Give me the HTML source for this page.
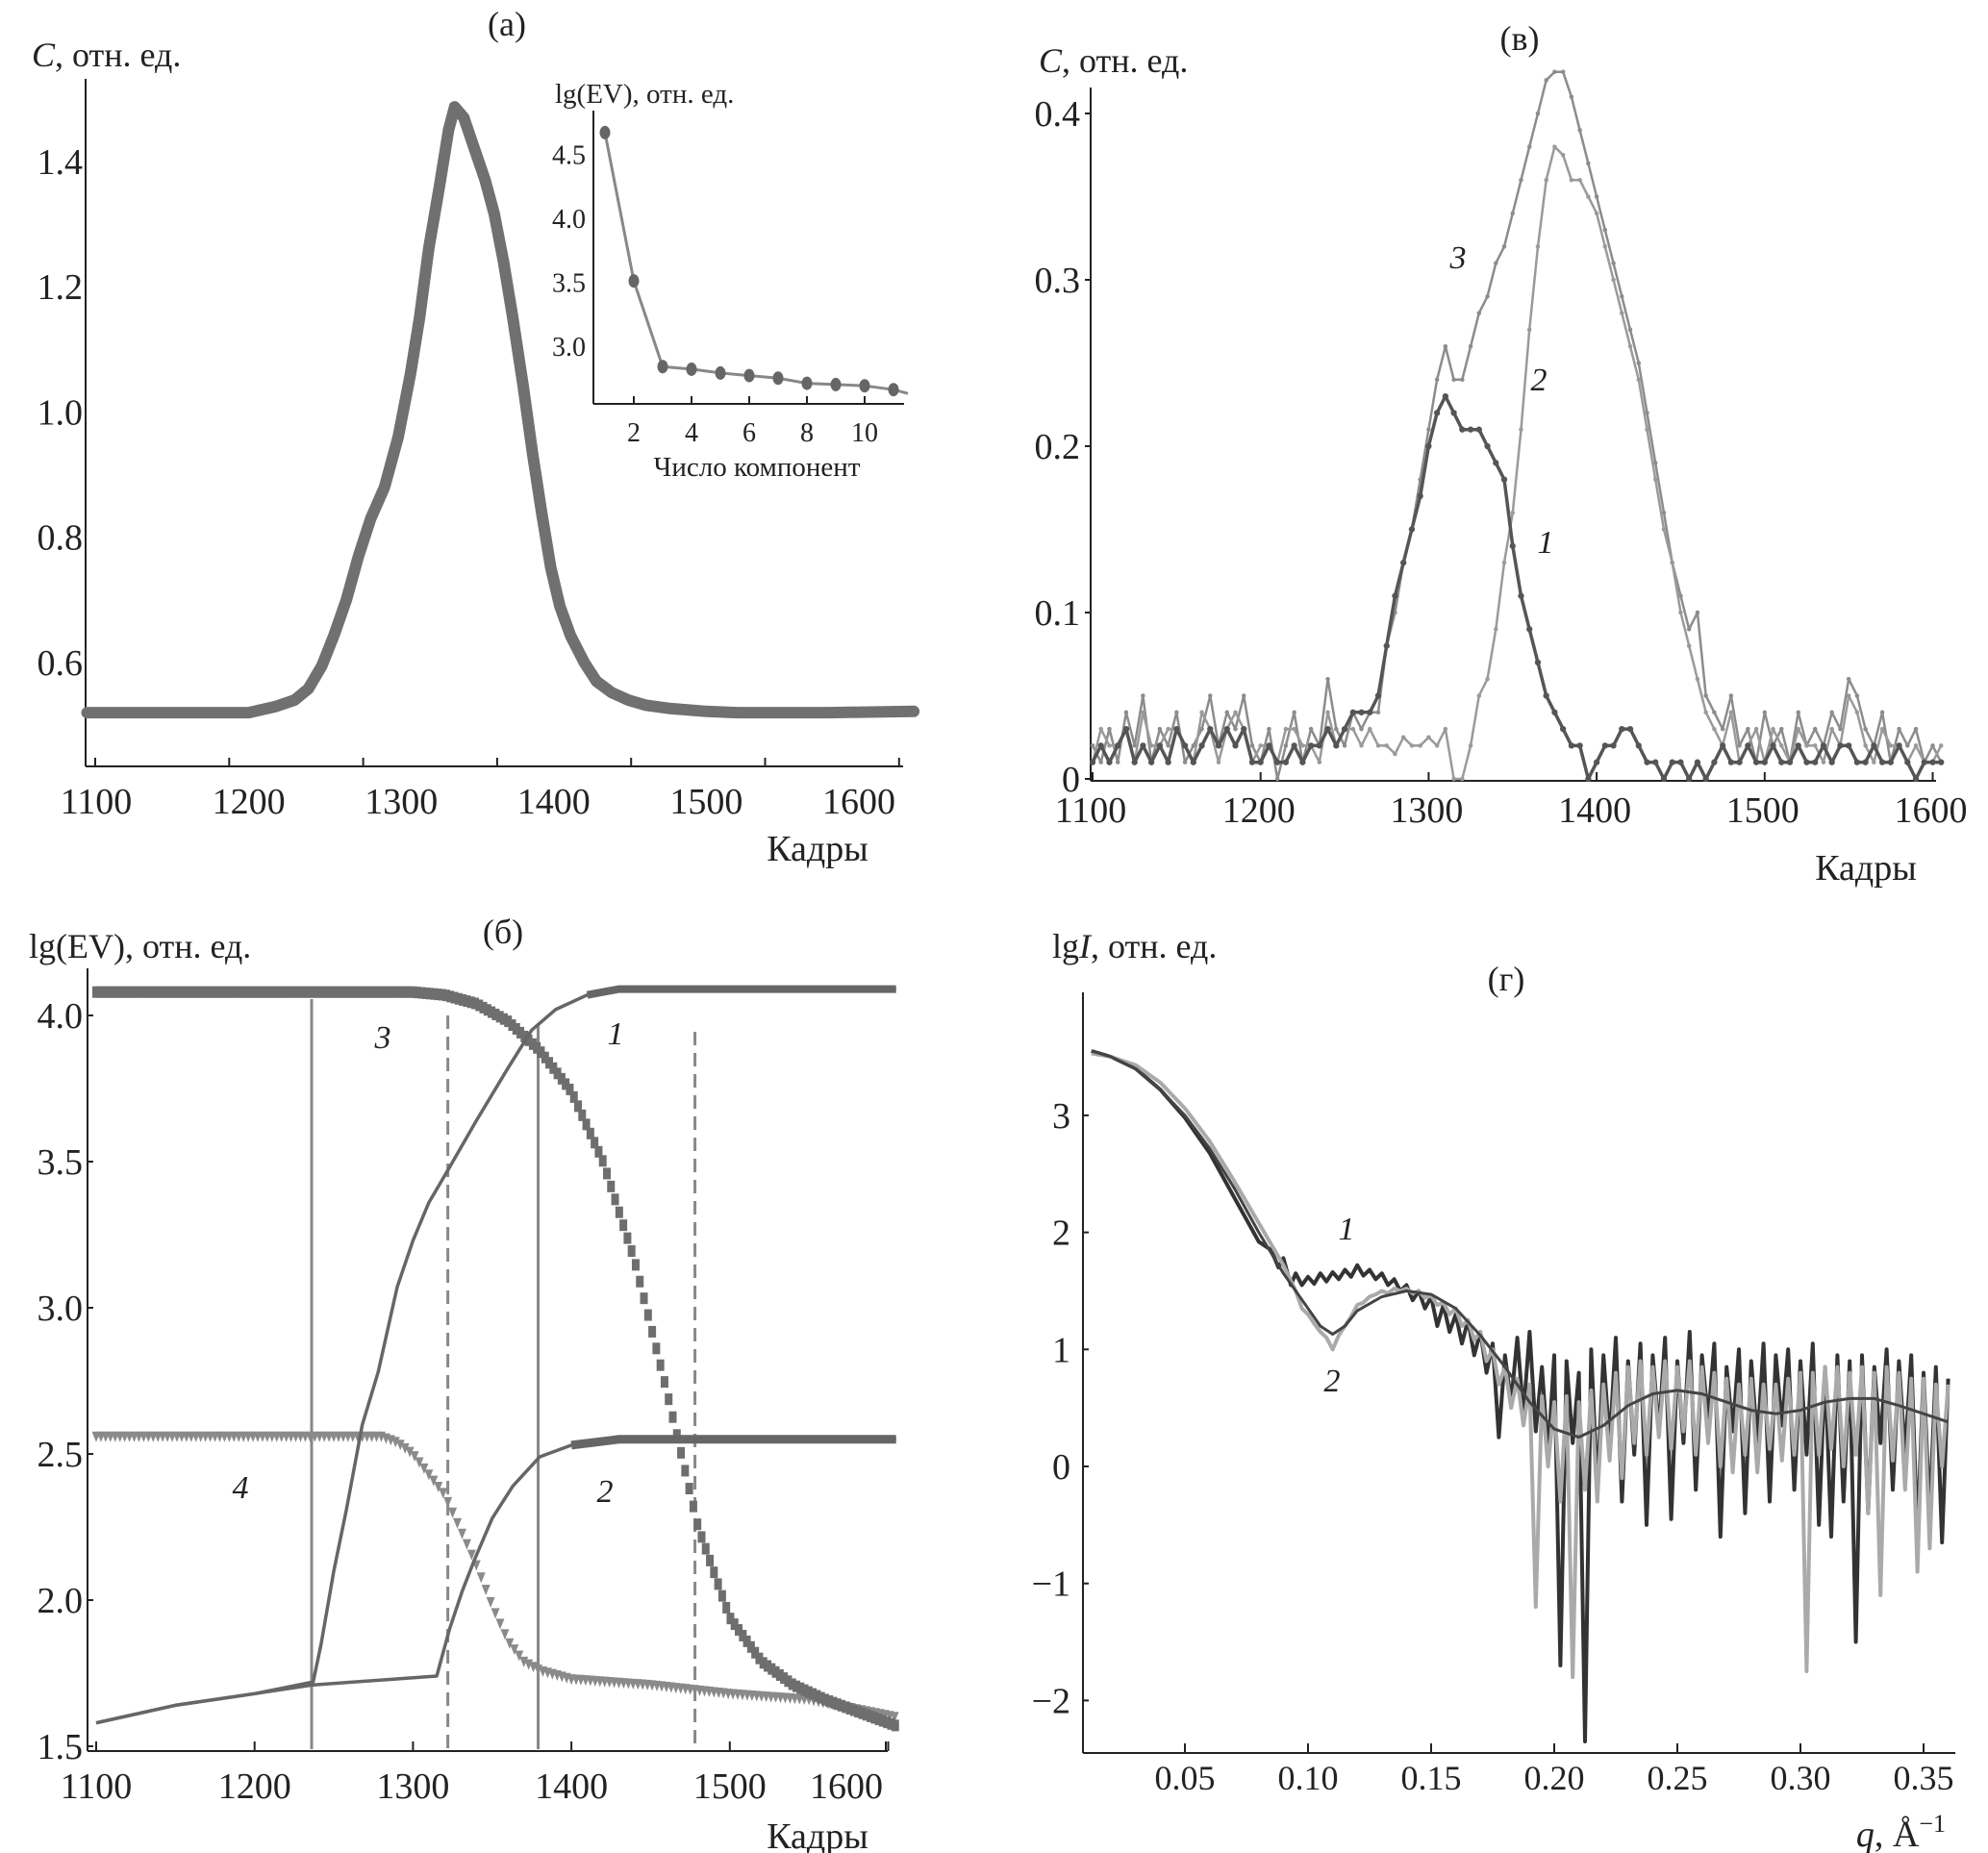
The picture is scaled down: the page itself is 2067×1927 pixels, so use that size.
<!DOCTYPE html>
<html><head><meta charset="utf-8"><style>
html,body{margin:0;padding:0;background:#fff;}
svg{display:block;font-family:"Liberation Serif",serif;}
</style></head><body>
<svg id="fig" width="2067" height="1927" viewBox="0 0 2067 1927" xmlns="http://www.w3.org/2000/svg">
<g id="pa"></g>
<g id="pv"></g>
<g id="pb"></g>
<g id="pg"></g>
</svg>
<script>
// ---------- data: panel (a) ----------
const aFrames=[1094,1150,1200,1218,1230,1239,1248,1256,1264,1272,1280,1289,1298,1306,1312,1318,1325,1331,1335,1341,1348,1355,1361,1367,1373,1380,1386,1392,1398,1404,1411,1420,1428,1438,1449,1460,1475,1500,1520,1580,1636];
const aValues=[0.52,0.52,0.52,0.53,0.54,0.558,0.595,0.644,0.70,0.77,0.83,0.88,0.96,1.06,1.15,1.26,1.36,1.45,1.487,1.47,1.42,1.37,1.316,1.24,1.152,1.04,0.935,0.84,0.752,0.69,0.643,0.60,0.57,0.552,0.54,0.532,0.527,0.522,0.52,0.52,0.522];
const aXLabels=[1100,1200,1300,1400,1500,1600];
const aYLabels=[0.6,0.8,1.0,1.2,1.4];
const insetN=[1,2,3,4,5,6,7,8,9,10,11];
const insetEV=[4.67,3.51,2.84,2.82,2.79,2.77,2.75,2.71,2.70,2.69,2.66];
const insetXLabels=[2,4,6,8,10];
const insetYLabels=[3.0,3.5,4.0,4.5];
// ---------- data: panel (в) ----------
const vStart=1100, vStep=5;
const vS3=[0.02,0.01,0.03,0.01,0.04,0.02,0.05,0.01,0.03,0.02,0.04,0.01,0.02,0.03,0.05,0.02,0.04,0.03,0.05,0.02,0.01,0.03,0.00,0.02,0.04,0.01,0.03,0.02,0.06,0.03,0.02,0.04,0.03,0.04,
0.04,0.08,0.10,0.13,0.15,0.18,0.21,0.24,0.26,0.24,0.24,0.26,0.28,0.29,0.31,0.32,0.34,0.36,0.38,0.40,0.42,0.425,0.425,0.41,0.39,0.37,0.35,0.33,0.31,0.29,0.27,0.25,0.22,0.19,0.16,0.13,0.11,0.09,0.10,0.05,0.04,0.03,0.05,0.02,0.03,0.01,0.04,0.02,0.03,0.01,0.04,0.02,0.03,0.02,0.04,0.03,0.06,0.05,0.03,0.02,0.04,0.01,0.03,0.02,0.03,0.01,0.02,0.01];
const vS2=[0.01,0.03,0.02,0.02,0.03,0.01,0.04,0.02,0.02,0.03,0.03,0.02,0.01,0.04,0.03,0.01,0.03,0.04,0.03,0.01,0.02,0.02,0.01,0.03,0.03,0.02,0.02,0.01,0.04,0.02,0.03,0.03,0.02,0.03,
0.02,0.02,0.015,0.025,0.02,0.02,0.025,0.02,0.03,0.0,0.0,0.02,0.05,0.06,0.09,0.13,0.16,0.21,0.27,0.32,0.36,0.38,0.375,0.36,0.36,0.35,0.34,0.32,0.30,0.28,0.26,0.24,0.21,0.18,0.15,0.13,0.10,0.08,0.06,0.04,0.03,0.02,0.04,0.01,0.02,0.03,0.01,0.03,0.02,0.01,0.03,0.02,0.02,0.01,0.03,0.02,0.05,0.04,0.02,0.01,0.03,0.02,0.02,0.01,0.02,0.01,0.01,0.02];
const vS1=[0.01,0.02,0.01,0.02,0.03,0.01,0.02,0.01,0.02,0.01,0.03,0.02,0.01,0.02,0.03,0.02,0.03,0.02,0.03,0.01,0.01,0.02,0.01,0.01,0.02,0.01,0.02,0.02,0.03,0.02,0.03,0.04,0.04,0.04,
0.05,0.08,0.11,0.13,0.15,0.17,0.20,0.22,0.23,0.22,0.21,0.21,0.21,0.20,0.19,0.18,0.14,0.11,0.09,0.07,0.05,0.04,0.03,0.02,0.02,0.0,0.01,0.02,0.02,0.03,0.03,0.02,0.01,0.01,0.0,0.01,0.01,0.0,0.01,0.0,0.01,0.02,0.01,0.01,0.02,0.01,0.01,0.02,0.01,0.01,0.02,0.01,0.01,0.02,0.01,0.02,0.02,0.01,0.01,0.02,0.01,0.01,0.02,0.01,0.0,0.01,0.01,0.01];
const vXLabels=[1100,1200,1300,1400,1500,1600];
const vYLabels=[0,0.1,0.2,0.3,0.4];
// ---------- data: panel (б) ----------
const b3F=[1100,1300,1320,1340,1360,1380,1400,1420,1440,1460,1480,1500,1520,1540,1560,1580,1605];
const b3V=[4.08,4.08,4.07,4.04,3.98,3.88,3.74,3.50,3.16,2.72,2.25,1.94,1.79,1.71,1.66,1.62,1.57];
const b1F=[1100,1150,1200,1237,1242,1250,1258,1268,1278,1290,1300,1310,1323,1340,1360,1375,1390,1410,1430,1605];
const b1V=[1.58,1.64,1.68,1.72,1.85,2.10,2.31,2.60,2.78,3.07,3.23,3.36,3.48,3.64,3.82,3.95,4.02,4.07,4.09,4.09];
const b2F=[1100,1150,1200,1237,1315,1323,1331,1339,1350,1363,1380,1400,1430,1605];
const b2V=[1.58,1.64,1.68,1.71,1.74,1.90,2.03,2.14,2.28,2.39,2.49,2.53,2.55,2.55];
const b4F=[1100,1280,1290,1300,1320,1340,1350,1360,1370,1380,1400,1450,1500,1550,1605];
const b4V=[2.56,2.56,2.54,2.50,2.36,2.12,1.98,1.86,1.79,1.76,1.73,1.71,1.68,1.66,1.60];
const bSolid=[1236,1379];
const bDashed=[1322,1478];
const bXLabels=[1100,1200,1300,1400,1500,1600];
const bYLabels=[1.5,2.0,2.5,3.0,3.5,4.0];
// ---------- data: panel (г) ----------
const gFitQ=[0.012,0.02,0.03,0.04,0.05,0.06,0.07,0.08,0.09,0.10,0.105,0.11,0.115,0.12,0.13,0.14,0.15,0.16,0.17,0.18,0.19,0.20,0.21,0.22,0.23,0.24,0.25,0.26,0.27,0.28,0.29,0.30,0.31,0.32,0.33,0.34,0.35,0.36];
const gFitV=[3.55,3.50,3.40,3.22,3.0,2.72,2.38,2.0,1.65,1.35,1.2,1.13,1.2,1.33,1.45,1.50,1.47,1.35,1.12,0.85,0.55,0.32,0.25,0.35,0.52,0.62,0.65,0.62,0.55,0.48,0.45,0.48,0.55,0.58,0.58,0.52,0.45,0.38];
const g1HeadQ=[0.012,0.02,0.03,0.04,0.05,0.06,0.07,0.08,0.085,0.088,0.09,0.093,0.095];
const g1HeadV=[3.55,3.50,3.40,3.22,2.98,2.68,2.30,1.92,1.85,1.70,1.78,1.55,1.65];
const g2HeadQ=[0.012,0.02,0.03,0.04,0.05,0.06,0.07,0.08,0.09,0.095];
const g2HeadV=[3.53,3.50,3.43,3.28,3.06,2.78,2.44,2.08,1.72,1.50];
const gTailStart=0.0975, gTailStep=0.0025;
const g1Tail=[1.55,1.62,1.56,1.65,1.58,1.66,1.60,1.68,1.62,1.72,1.63,1.68,1.60,1.65,1.55,1.60,1.50,1.55,1.42,1.50,1.35,1.45,1.20,1.38,1.15,1.30,1.05,1.25,0.95,1.15,
0.80,1.05,0.25,0.95,0.55,1.10,0.45,1.15,0.30,0.85,0.10,0.95,-1.70,0.90,0.20,0.80,-2.35,1.00,-0.20,0.95,0.20,1.10,-0.30,0.90,0.10,1.05,-0.50,0.95,0.30,1.10,-0.45,0.90,0.20,1.15,-0.20,0.95,0.40,1.05,-0.60,0.85,0.30,1.00,-0.40,0.90,0.20,1.05,-0.30,0.95,0.35,1.00,-0.20,0.90,0.10,1.05,-0.50,0.85,-0.60,0.95,-0.30,0.90,-1.50,0.95,-0.40,0.85,0.20,1.00,-0.20,0.90,0.10,0.95,-0.60,0.80,-0.40,0.85,-0.65,0.75];
const g2Tail=[1.35,1.30,1.22,1.15,1.10,1.00,1.12,1.20,1.28,1.38,1.40,1.45,1.47,1.50,1.48,1.52,1.50,1.52,1.48,1.50,1.44,1.46,1.38,1.40,1.30,1.35,1.20,1.25,1.08,1.15,0.90,1.00,0.70,0.85,0.50,0.75,0.35,0.70,-1.20,0.60,0.00,0.55,-0.30,0.60,-1.80,0.55,-0.20,0.65,-0.30,0.70,0.05,0.80,-0.10,0.85,0.20,0.90,0.10,0.85,0.25,0.90,0.15,0.85,0.30,0.90,0.10,0.85,0.20,0.80,0.00,0.75,-0.05,0.70,0.10,0.75,-0.05,0.70,0.15,0.70,0.05,0.75,0.10,0.80,-1.75,0.80,0.10,0.85,0.15,0.85,0.00,0.80,0.10,0.85,-0.40,0.80,-1.10,0.85,0.05,0.80,-0.20,0.75,-0.90,0.75,-0.70,0.70,0.00,0.70];
const gXLabels=[0.05,0.10,0.15,0.20,0.25,0.30,0.35];
const gYLabels=[-2,-1,0,1,2,3];

// ---------- helpers ----------
const NS="http://www.w3.org/2000/svg";
function mk(parent,tag,attrs,txt){const e=document.createElementNS(NS,tag);for(const k in attrs)e.setAttribute(k,attrs[k]);if(txt!==undefined)e.textContent=txt;parent.appendChild(e);return e;}
function interp(xs,ys,x){if(x<=xs[0])return ys[0];for(let i=1;i<xs.length;i++){if(x<=xs[i]){const t=(x-xs[i-1])/(xs[i]-xs[i-1]);return ys[i-1]+t*(ys[i]-ys[i-1]);}}return ys[ys.length-1];}
function pts(xs,ys,sx,sy){return xs.map((x,i)=>sx(x).toFixed(1)+","+sy(ys[i]).toFixed(1)).join(" ");}
const INK="#222";
const FS=38;

// ---------- panel (a) ----------
(function(){
const g=document.getElementById('pa');
const sx=f=>100+(f-1100)*1.586, sy=v=>689-(v-0.6)*651.5;
let e;
e=mk(g,'line',{x1:89,y1:82,x2:89,y2:797,stroke:INK,'stroke-width':2});

e=mk(g,'line',{x1:89,y1:797,x2:939,y2:797,stroke:INK,'stroke-width':2});

for(let k=0;k<7;k++){const x=99+139.3*k;e=mk(g,'line',{x1:x,y1:797,x2:x,y2:788,stroke:INK,'stroke-width':2});
}
aXLabels.forEach(v=>{e=mk(g,'text',{x:sx(v),y:846,'font-size':FS,'text-anchor':'middle',fill:INK},String(v));
});
aYLabels.forEach(v=>{e=mk(g,'text',{x:86,y:sy(v)+13,'font-size':FS,'text-anchor':'end',fill:INK},v.toFixed(1));
});
e=mk(g,'polyline',{points:pts(aFrames,aValues,sx,sy),fill:'none',stroke:'#707070','stroke-width':12,'stroke-linejoin':'round','stroke-linecap':'round'});

e=mk(g,'text',{x:527,y:37,'font-size':36,'text-anchor':'middle',fill:INK},'(а)');

e=mk(g,'text',{x:33,y:69,'font-size':36,fill:INK});

mk(e,'tspan',{'font-style':'italic'},'C');mk(e,'tspan',{},', отн. ед.');
e=mk(g,'text',{x:850,y:895,'font-size':FS,'text-anchor':'middle',fill:INK},'Кадры');

// inset
const ix=n=>659+(n-2)*30, iy=v=>227-(v-4.0)*133;
e=mk(g,'line',{x1:617,y1:115,x2:617,y2:420,stroke:INK,'stroke-width':2});

e=mk(g,'line',{x1:617,y1:420,x2:940,y2:420,stroke:INK,'stroke-width':2});

insetXLabels.forEach(n=>{e=mk(g,'line',{x1:ix(n),y1:420,x2:ix(n),y2:412,stroke:INK,'stroke-width':2});

e=mk(g,'text',{x:ix(n),y:459,'font-size':28,'text-anchor':'middle',fill:INK},String(n));
});
insetYLabels.forEach(v=>{e=mk(g,'text',{x:609,y:iy(v)+10,'font-size':28,'text-anchor':'end',fill:INK},v.toFixed(1));
});
const lastV=interp(insetN,insetEV,11)-0.03;
e=mk(g,'polyline',{points:pts(insetN.concat([11.5]),insetEV.concat([lastV]),ix,iy),fill:'none',stroke:'#888','stroke-width':3});

insetN.forEach((n,i)=>{e=mk(g,'ellipse',{cx:ix(n),cy:iy(insetEV[i]),rx:5.5,ry:7,fill:'#666'});
});
e=mk(g,'text',{x:577,y:107,'font-size':29,fill:INK},'lg(EV), отн. ед.');

e=mk(g,'text',{x:787,y:495,'font-size':29,'text-anchor':'middle',fill:INK},'Число компонент');

})();

// ---------- panel (в) ----------
(function(){
const g=document.getElementById('pv');
const sx=f=>1136+(f-1100)*1.747, sy=v=>810-v*1730;
let e;
e=mk(g,'line',{x1:1134,y1:91,x2:1134,y2:812,stroke:INK,'stroke-width':2});

e=mk(g,'line',{x1:1134,y1:812,x2:2013,y2:812,stroke:INK,'stroke-width':2});

vXLabels.forEach(v=>{e=mk(g,'line',{x1:sx(v),y1:812,x2:sx(v),y2:803,stroke:INK,'stroke-width':2});

e=mk(g,'text',{x:sx(v)-2,y:855,'font-size':FS,'text-anchor':'middle',fill:INK},String(v));
});
vYLabels.forEach(v=>{e=mk(g,'line',{x1:1134,y1:sy(v),x2:1128,y2:sy(v),stroke:INK,'stroke-width':2});

e=mk(g,'text',{x:1123,y:sy(v)+13,'font-size':FS,'text-anchor':'end',fill:INK},v===0?'0':v.toFixed(1));
});
[[vS3,'#8c8c8c',2.5,'v-series-3'],[vS2,'#9a9a9a',2.5,'v-series-2'],[vS1,'#555',3.5,'v-series-1']].forEach(([arr,col,w,nm])=>{
const fr=arr.map((_,i)=>vStart+i*vStep);
e=mk(g,'polyline',{points:pts(fr,arr,sx,sy),fill:'none',stroke:col,'stroke-width':w,'stroke-linejoin':'round'});

arr.forEach((v,i)=>{e=mk(g,'circle',{cx:sx(fr[i]),cy:sy(v),r:w*0.9,fill:col});
});
});
e=mk(g,'text',{x:1580,y:52,'font-size':36,'text-anchor':'middle',fill:INK},'(в)');

e=mk(g,'text',{x:1080,y:75,'font-size':36,fill:INK});

mk(e,'tspan',{'font-style':'italic'},'C');mk(e,'tspan',{},', отн. ед.');
e=mk(g,'text',{x:1940,y:915,'font-size':FS,'text-anchor':'middle',fill:INK},'Кадры');

[['3',1516,279],['2',1600,406],['1',1607,575]].forEach(([t,x,y])=>{e=mk(g,'text',{x:x,y:y,'font-size':34,'font-style':'italic','text-anchor':'middle',fill:INK},t);
});
})();

// ---------- panel (б) ----------
(function(){
const g=document.getElementById('pb');
const sx=f=>100+(f-1100)*1.647, sy=v=>1056-(v-4.0)*304;
let e;
e=mk(g,'line',{x1:91,y1:1007,x2:91,y2:1821,stroke:INK,'stroke-width':2});

e=mk(g,'line',{x1:91,y1:1821,x2:923,y2:1821,stroke:INK,'stroke-width':2});

bXLabels.concat([1700]).forEach(v=>{const x=v===1700?921:sx(v);e=mk(g,'line',{x1:x,y1:1821,x2:x,y2:1811,stroke:INK,'stroke-width':2});
});
bXLabels.forEach(v=>{e=mk(g,'text',{x:v===1600?880:sx(v),y:1870,'font-size':FS,'text-anchor':'middle',fill:INK},String(v));
});
bYLabels.forEach(v=>{e=mk(g,'line',{x1:91,y1:sy(v),x2:97,y2:sy(v),stroke:INK,'stroke-width':2});

e=mk(g,'text',{x:86,y:sy(v)+13,'font-size':FS,'text-anchor':'end',fill:INK},v.toFixed(1));
});
const tops={1236:1039,1379:1066,1322:1056,1478:1073};
bSolid.forEach(f=>{e=mk(g,'line',{x1:sx(f),y1:tops[f],x2:sx(f),y2:1819,stroke:'#888','stroke-width':3});
});
bDashed.forEach(f=>{e=mk(g,'line',{x1:sx(f),y1:tops[f],x2:sx(f),y2:1819,stroke:'#888','stroke-width':3,'stroke-dasharray':'14 8'});
});
for(let f=1100;f<=1605;f+=3){const x=sx(f),y=sy(interp(b4F,b4V,f));
e=mk(g,'path',{d:`M${x-4.5},${y-5} L${x+4.5},${y-5} L${x},${y+6} Z`,fill:'#8a8a8a'});
}
for(let f=1100;f<=1605;f+=2.6){const x=sx(f),y=sy(interp(b3F,b3V,f));
e=mk(g,'rect',{x:x-4,y:y-6,width:8,height:12,fill:'#6e6e6e'});
}
e=mk(g,'polyline',{points:pts(b1F.slice(17),b1V.slice(17),sx,sy),fill:'none',stroke:'#666','stroke-width':8});

e=mk(g,'polyline',{points:pts(b1F,b1V,sx,sy),fill:'none',stroke:'#666','stroke-width':3.5,'stroke-linejoin':'round'});

e=mk(g,'polyline',{points:pts(b2F.slice(11),b2V.slice(11),sx,sy),fill:'none',stroke:'#666','stroke-width':9});

e=mk(g,'polyline',{points:pts(b2F,b2V,sx,sy),fill:'none',stroke:'#666','stroke-width':3.5,'stroke-linejoin':'round'});

e=mk(g,'text',{x:523,y:981,'font-size':36,'text-anchor':'middle',fill:INK},'(б)');

e=mk(g,'text',{x:30,y:996,'font-size':36,fill:INK},'lg(EV), отн. ед.');

e=mk(g,'text',{x:850,y:1922,'font-size':FS,'text-anchor':'middle',fill:INK},'Кадры');

[['3',398,1090],['1',640,1086],['4',250,1558],['2',629,1562]].forEach(([t,x,y])=>{e=mk(g,'text',{x:x,y:y,'font-size':34,'font-style':'italic','text-anchor':'middle',fill:INK},t);
});
})();

// ---------- panel (г) ----------
(function(){
const g=document.getElementById('pg');
const sx=q=>1232+(q-0.05)*2560, sy=v=>1525-v*121.7;
let e;
e=mk(g,'line',{x1:1126,y1:1032,x2:1126,y2:1823,stroke:INK,'stroke-width':2});

e=mk(g,'line',{x1:1126,y1:1823,x2:2033,y2:1823,stroke:INK,'stroke-width':2});

gXLabels.forEach(v=>{e=mk(g,'line',{x1:sx(v),y1:1823,x2:sx(v),y2:1813,stroke:INK,'stroke-width':2});

e=mk(g,'text',{x:sx(v),y:1861,'font-size':36,'text-anchor':'middle',fill:INK},v.toFixed(2));
});
gYLabels.forEach(v=>{e=mk(g,'line',{x1:1126,y1:sy(v),x2:1132,y2:sy(v),stroke:INK,'stroke-width':2});

e=mk(g,'text',{x:1113,y:sy(v)+13,'font-size':FS,'text-anchor':'end',fill:INK},v<0?'\u2212'+Math.abs(v):String(v));
});
const tq=g1Tail.map((_,i)=>gTailStart+i*gTailStep);
e=mk(g,'polyline',{points:pts(g1HeadQ.concat(tq),g1HeadV.concat(g1Tail),sx,sy),fill:'none',stroke:'#333','stroke-width':4,'stroke-linejoin':'round'});

const tq2=g2Tail.map((_,i)=>gTailStart+i*gTailStep);
e=mk(g,'polyline',{points:pts(g2HeadQ.concat(tq2),g2HeadV.concat(g2Tail),sx,sy),fill:'none',stroke:'#aaa','stroke-width':4,'stroke-linejoin':'round'});

e=mk(g,'polyline',{points:pts(gFitQ,gFitV,sx,sy),fill:'none',stroke:'#444','stroke-width':3,'stroke-linejoin':'round'});

e=mk(g,'text',{x:1566,y:1030,'font-size':36,'text-anchor':'middle',fill:INK},'(г)');

e=mk(g,'text',{x:1094,y:996,'font-size':36,fill:INK});

mk(e,'tspan',{},'lg');mk(e,'tspan',{'font-style':'italic'},'I');mk(e,'tspan',{},', отн. ед.');
e=mk(g,'text',{x:2023,y:1920,'font-size':FS,'text-anchor':'end',fill:INK});

mk(e,'tspan',{'font-style':'italic'},'q');mk(e,'tspan',{},', Å');mk(e,'tspan',{'font-size':26,dy:-15},'\u22121');
[['1',1400,1289],['2',1385,1447]].forEach(([t,x,y])=>{e=mk(g,'text',{x:x,y:y,'font-size':34,'font-style':'italic','text-anchor':'middle',fill:INK},t);
});
})();
</script>
</body></html>
